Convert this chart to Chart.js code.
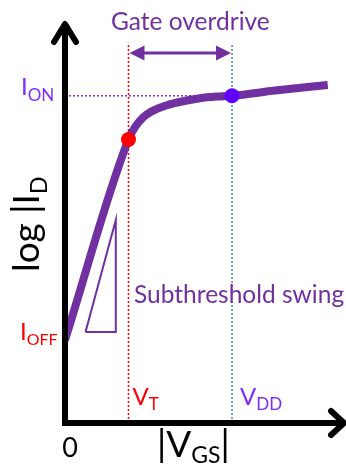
<!DOCTYPE html>
<html>
<head>
<meta charset="utf-8">
<script src="https://cdn.jsdelivr.net/npm/chart.js@4.4.0/dist/chart.umd.min.js"></script>
<style>
  html, body { margin: 0; padding: 0; background: #fff; }
  canvas { display: block; }
</style>
</head>
<body>
<canvas id="chart" width="346" height="468"></canvas>
<script>
// transfer curve, |VGS| (V) against log ID (decades, arbitrary)
var vgs   = [0,    0.325, 0.36, 0.40, 0.44, 0.525, 0.61, 0.69, 0.775, 0.855, 1.075, 1.345];
var logId = [2.07, 7.07,  7.39, 7.62, 7.76, 7.93,  8.03, 8.10, 8.14,  8.16,  8.29,  8.43];

// marked operating points
var vT = 0.325, yT = 7.07;     // threshold
var vDD = 0.855, yOn = 8.16;   // supply / on current
var yOff = 2.07;               // off current
var guideTop = 9.48;           // top of the dotted guides
var overdriveY = 9.23;         // height of the "gate overdrive" arrow

// subthreshold slope triangle
var triX = [0.105, 0.26, 0.26, 0.105];
var triY = [2.27,  2.27, 5.06, 2.27];

var labels = {
  overdrive: 'Gate overdrive',
  swing: 'Subthreshold swing',
  ion: ['I', 'ON'],
  ioff: ['I', 'OFF'],
  vt: ['V', 'T'],
  vdd: ['V', 'DD'],
  zero: '0',
  xTitle: ['|V', 'GS', '|'],
  yTitle: ['log |I', 'D', '|']
};

var PURPLE = '#7030a0';
var VIOLET = '#7b2cff';
var RED = '#ff0000';
var STEEL = '#4a7ebb';
var FONT = 'Lato, "Open Sans", sans-serif';

function pts(xs, ys) {
  return xs.map(function (x, i) { return { x: x, y: ys[i] }; });
}

// text with a subscript, returns the end x
function subText(ctx, main, sub, x, y, size, subSize, dy, color) {
  ctx.fillStyle = color;
  ctx.font = size + 'px ' + FONT;
  ctx.fillText(main, x, y);
  var w = ctx.measureText(main).width;
  ctx.font = subSize + 'px ' + FONT;
  ctx.fillText(sub, x + w, y + dy);
  return x + w + ctx.measureText(sub).width;
}

var decorations = {
  id: 'decorations',
  afterDraw: function (chart) {
    var ctx = chart.ctx;
    var xs = chart.scales.x, ys = chart.scales.y;
    var x0 = xs.getPixelForValue(0), y0 = ys.getPixelForValue(0);
    var xT = xs.getPixelForValue(vT), xDD = xs.getPixelForValue(vDD);
    var yA = ys.getPixelForValue(overdriveY);

    ctx.save();
    // axes with open arrow heads
    ctx.strokeStyle = '#000';
    ctx.lineWidth = 6;
    ctx.lineJoin = 'round';
    ctx.lineCap = 'butt';
    ctx.beginPath();
    ctx.moveTo(x0, y0 + 3);
    ctx.lineTo(x0, 23);
    ctx.moveTo(x0 - 3, y0);
    ctx.lineTo(344, y0);
    ctx.stroke();
    ctx.lineCap = 'round';
    ctx.beginPath();
    ctx.moveTo(x0 - 11, 42);
    ctx.lineTo(x0, 24);
    ctx.lineTo(x0 + 11, 42);
    ctx.moveTo(331, y0 - 12);
    ctx.lineTo(344, y0);
    ctx.lineTo(331, y0 + 12);
    ctx.stroke();

    // gate overdrive double arrow
    ctx.strokeStyle = PURPLE;
    ctx.fillStyle = PURPLE;
    ctx.lineWidth = 3;
    ctx.lineCap = 'butt';
    ctx.beginPath();
    ctx.moveTo(xT + 12, yA);
    ctx.lineTo(xDD - 12, yA);
    ctx.stroke();
    ctx.beginPath();
    ctx.moveTo(xT + 1, yA);
    ctx.lineTo(xT + 16, yA - 7.5);
    ctx.lineTo(xT + 16, yA + 7.5);
    ctx.closePath();
    ctx.moveTo(xDD - 1, yA);
    ctx.lineTo(xDD - 16, yA - 7.5);
    ctx.lineTo(xDD - 16, yA + 7.5);
    ctx.closePath();
    ctx.fill();

    // texts
    ctx.textBaseline = 'alphabetic';
    ctx.textAlign = 'left';
    ctx.fillStyle = PURPLE;
    ctx.font = '24.5px ' + FONT;
    ctx.fillText(labels.overdrive, 111, 30);
    ctx.fillText(labels.swing, 134, 303);

    subText(ctx, labels.ion[0], labels.ion[1], 21, ys.getPixelForValue(yOn) - 1, 24, 17, 6, VIOLET);
    subText(ctx, labels.ioff[0], labels.ioff[1], 20, ys.getPixelForValue(yOff), 24, 16, 5, RED);
    subText(ctx, labels.vt[0], labels.vt[1], xT + 4, 405, 24, 17, 5, RED);
    subText(ctx, labels.vdd[0], labels.vdd[1], xDD + 8, 405, 24, 17, 5, VIOLET);

    ctx.fillStyle = '#000';
    ctx.font = '27px ' + FONT;
    ctx.textAlign = 'center';
    ctx.fillText(labels.zero, x0 + 5, 457);
    ctx.textAlign = 'left';

    var ex = subText(ctx, labels.xTitle[0], labels.xTitle[1], 157, 457, 37, 23, 6, '#000');
    ctx.font = '37px ' + FONT;
    ctx.fillText(labels.xTitle[2], ex, 457);

    ctx.translate(39, 272);
    ctx.rotate(-Math.PI / 2);
    subText(ctx, labels.yTitle[0], labels.yTitle[1], 0, 0, 37, 23, 8, '#000');
    ctx.restore();
  }
};

new Chart(document.getElementById('chart'), {
  type: 'scatter',
  data: {
    datasets: [
      {
        data: [{ x: vT, y: yT }],
        pointRadius: 7.5,
        pointBackgroundColor: RED,
        pointBorderWidth: 0
      },
      {
        data: [{ x: vDD, y: yOn }],
        pointRadius: 7.5,
        pointBackgroundColor: '#6000ff',
        pointBorderWidth: 0
      },
      {
        data: pts(vgs, logId),
        showLine: true,
        borderColor: PURPLE,
        borderWidth: 8,
        pointRadius: 0,
        cubicInterpolationMode: 'monotone'
      },
      {
        data: pts(triX, triY),
        showLine: true,
        borderColor: PURPLE,
        borderWidth: 2,
        pointRadius: 0
      },
      {
        data: [{ x: vT, y: 0 }, { x: vT, y: guideTop }],
        showLine: true,
        borderColor: RED,
        borderWidth: 1.5,
        borderDash: [2, 2],
        pointRadius: 0
      },
      {
        data: [{ x: vDD, y: 0 }, { x: vDD, y: guideTop }],
        showLine: true,
        borderColor: STEEL,
        borderWidth: 1.5,
        borderDash: [2, 2],
        pointRadius: 0
      },
      {
        data: [{ x: 0, y: yOn }, { x: vDD, y: yOn }],
        showLine: true,
        borderColor: VIOLET,
        borderWidth: 1.5,
        borderDash: [2, 2],
        pointRadius: 0
      }
    ]
  },
  options: {
    responsive: false,
    animation: false,
    layout: { padding: { left: 65, right: 1, top: 22, bottom: 45 } },
    plugins: { legend: { display: false }, tooltip: { enabled: false } },
    scales: {
      x: { type: 'linear', min: 0, max: 1.4, display: false },
      y: { type: 'linear', min: 0, max: 10, display: false }
    }
  },
  plugins: [decorations]
});
</script>
</body>
</html>
